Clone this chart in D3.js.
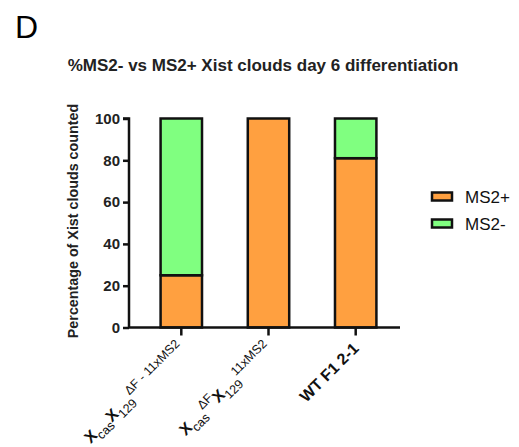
<!DOCTYPE html>
<html>
<head>
<meta charset="utf-8">
<script src="https://cdn.jsdelivr.net/npm/d3@7"></script>
<style>
  body { margin: 0; background: #fff; }
  svg { display: block; font-family: "Liberation Sans", Arial, sans-serif; }
</style>
</head>
<body>
<svg id="chart" width="519" height="447"></svg>
<script>
// Groups on the x axis
const categories = ["xcas129_dF11", "xcasdF_129_11", "wtf1"];
// Stacked percentages per group
const ms2Plus = [25, 100, 81];
const ms2Minus = [75, 0, 19];
const seriesNames = ["MS2+", "MS2-"];
const seriesColors = ["#ffa040", "#80ff80"];
const yTicks = [0, 20, 40, 60, 80, 100];

// Label pieces: [text, kind] where kind = main | sub | sup
const xLabelParts = [
  [["X", "main"], ["cas", "sub"], ["X", "main"], ["129", "sub"], ["ΔF - 11xMS2", "sup"]],
  [["X", "main"], ["cas", "sub"], ["ΔF", "sup"], ["X", "main"], ["129", "sub"], ["11xMS2", "sup"]],
  [["WT F1 2-1", "main"]]
];

const svg = d3.select("#chart");

const axisLeft = 129, axisRight = 400;
const y = d3.scaleLinear().domain([0, 100]).range([327.5, 118.5]);
const x = d3.scaleBand().domain(categories)
  .range([137.7, 399.3]).paddingInner(0.525).paddingOuter(0.2625);

const rows = categories.map((c, i) => ({ key: c, "MS2+": ms2Plus[i], "MS2-": ms2Minus[i] }));
const stack = d3.stack().keys(seriesNames)(rows);

// Panel letter
svg.append("text").attr("x", 15).attr("y", 38)
  .attr("font-size", 32).attr("fill", "#000").text("D");

// Title
svg.append("text").attr("x", 263).attr("y", 71)
  .attr("text-anchor", "middle").attr("font-size", 17).attr("font-weight", "bold")
  .attr("fill", "#222").text("%MS2- vs MS2+ Xist clouds day 6 differentiation");

// Bars
stack.forEach((layer, si) => {
  svg.append("g").selectAll("rect").data(layer.filter(d => d[1] > d[0])).join("rect")
    .attr("x", d => x(d.data.key))
    .attr("y", d => y(d[1]))
    .attr("width", x.bandwidth())
    .attr("height", d => y(d[0]) - y(d[1]))
    .attr("fill", seriesColors[si])
    .attr("stroke", "#111").attr("stroke-width", 2.5);
});

// Y axis
const gy = svg.append("g").attr("transform", `translate(${axisLeft},0)`)
  .call(d3.axisLeft(y).tickValues(yTicks).tickSize(6).tickPadding(3));
gy.select(".domain").attr("stroke", "#111").attr("stroke-width", 2.5)
  .attr("d", `M-6,${y(100)}H0V${y(0)}`);
gy.selectAll(".tick line").attr("stroke", "#111").attr("stroke-width", 2.5);
gy.selectAll(".tick text").attr("font-size", 15).attr("font-weight", "bold")
  .attr("fill", "#222").attr("font-family", "Liberation Sans, Arial, sans-serif");

// X axis line and ticks
svg.append("line").attr("x1", axisLeft).attr("x2", axisRight)
  .attr("y1", y(0)).attr("y2", y(0)).attr("stroke", "#111").attr("stroke-width", 2.5);
svg.append("g").selectAll("line").data(categories).join("line")
  .attr("x1", d => x(d) + x.bandwidth() / 2).attr("x2", d => x(d) + x.bandwidth() / 2)
  .attr("y1", y(0)).attr("y2", y(0) + 8)
  .attr("stroke", "#111").attr("stroke-width", 2.5);

// Rotated x labels with sub/superscripts
categories.forEach((c, i) => {
  const cx = x(c) + x.bandwidth() / 2;
  const t = svg.append("text")
    .attr("transform", `translate(${cx + 4},${y(0) + 22}) rotate(-45)`)
    .attr("text-anchor", "end").attr("fill", "#111");
  let level = 0;
  xLabelParts[i].forEach(([txt, kind]) => {
    const target = kind === "sub" ? 5 : kind === "sup" ? -7 : 0;
    t.append("tspan")
      .attr("dy", target - level)
      .attr("font-size", kind === "main" ? 16 : 12.5)
      .attr("font-weight", kind === "main" ? "bold" : "normal")
      .text(txt);
    level = target;
  });
});

// Y axis title
svg.append("text")
  .attr("transform", "translate(78,221) rotate(-90)")
  .attr("text-anchor", "middle").attr("font-size", 14.3).attr("font-weight", "bold")
  .attr("fill", "#222").text("Percentage of Xist clouds counted");

// Legend
const legend = svg.append("g");
seriesNames.forEach((name, i) => {
  const ly = 196.5 + i * 27;
  legend.append("rect").attr("x", 432).attr("y", ly - 4).attr("width", 20).attr("height", 8)
    .attr("fill", seriesColors[i]).attr("stroke", "#111").attr("stroke-width", 2.5);
  legend.append("text").attr("x", 465).attr("y", ly + 6)
    .attr("font-size", 17).attr("fill", "#111").text(name);
});
</script>
</body>
</html>
